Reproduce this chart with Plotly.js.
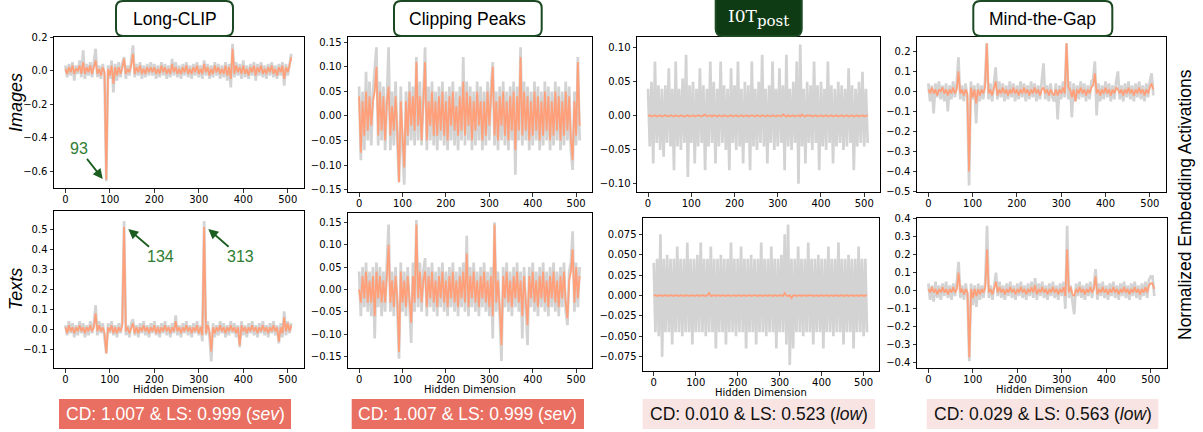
<!DOCTYPE html>
<html><head><meta charset="utf-8">
<script src="https://cdn.plot.ly/plotly-3.0.1.min.js"></script>
<style>html,body{margin:0;padding:0;background:#fff}#chart{width:1203px;height:432px}</style>
</head><body><div id="chart"></div>
<script>
// Hidden-dimension positions (every 4th dimension of 512)
const dims = [];
for (let d = 0; d < 512; d += 4) dims.push(d);

const methods = ["Long-CLIP", "Clipping Peaks", "I0T", "Mind-the-Gap"];
const rowLabels = ["Images", "Texts"];
const xTicks = [0, 100, 200, 300, 400, 500];
const cdText = ["CD: 1.007 & LS: 0.999 (<i>sev</i>)", "CD: 1.007 & LS: 0.999 (<i>sev</i>)", "CD: 0.010 & LS: 0.523 (<i>low</i>)", "CD: 0.029 & LS: 0.563 (<i>low</i>)"];
const annotDims = [93, 134, 313];

// ---- Images row ----
const lcImgGray = [
0.03,-0.04,0.04,-0.03,0.05,-0.06,0.03,-0.02,0.06,-0.04,0.12,-0.05,0.04,-0.03,0.05,-0.04,
0.05,0.13,-0.04,0.03,-0.05,0.04,-0.03,-0.66,0.03,-0.05,0.06,-0.13,0.04,-0.06,0.05,-0.04,
0.04,0.08,-0.05,0.03,-0.03,0.05,0.15,-0.04,0.04,-0.03,0.05,-0.05,0.03,-0.04,0.04,-0.03,
0.05,-0.03,0.04,-0.05,0.03,-0.04,0.05,-0.03,0.04,-0.05,0.03,-0.04,0.07,-0.03,0.05,-0.04,
0.03,-0.05,0.04,-0.03,0.05,-0.04,0.03,-0.05,0.04,-0.03,0.05,-0.04,0.03,-0.05,0.06,-0.03,
0.04,-0.05,0.03,-0.04,0.05,-0.03,0.04,-0.05,0.03,-0.04,0.05,-0.06,0.04,-0.10,0.16,-0.04,
0.05,-0.03,0.04,-0.05,0.06,-0.04,0.03,-0.05,0.04,-0.03,0.05,-0.06,0.04,-0.03,0.05,-0.04,
0.03,-0.05,0.04,-0.03,0.05,-0.04,0.03,-0.05,0.04,-0.03,0.05,-0.09,0.04,-0.03,0.05,0.10];
const lcImgOrange = [
0.01,-0.02,0.02,-0.01,0.03,-0.02,0.01,0.00,0.03,-0.02,0.05,-0.02,0.02,-0.01,0.03,-0.02,
0.02,0.06,-0.02,0.01,-0.03,0.02,-0.01,-0.65,0.01,-0.03,0.03,-0.08,0.02,-0.03,0.02,-0.02,
0.02,0.07,-0.02,0.01,-0.01,0.03,0.10,-0.02,0.02,-0.01,0.03,-0.02,0.01,-0.02,0.02,-0.01,
0.02,-0.01,0.02,-0.02,0.01,-0.02,0.03,-0.01,0.02,-0.02,0.01,-0.02,0.04,-0.01,0.02,-0.02,
0.01,-0.02,0.02,-0.01,0.03,-0.02,0.01,-0.02,0.02,-0.01,0.03,-0.02,0.01,-0.02,0.04,-0.01,
0.02,-0.03,0.01,-0.02,0.03,-0.01,0.02,-0.02,0.01,-0.02,0.03,-0.03,0.02,-0.05,0.13,-0.02,
0.03,-0.01,0.02,-0.02,0.03,-0.02,0.01,-0.03,0.02,-0.01,0.03,-0.03,0.02,-0.01,0.03,-0.02,
0.01,-0.02,0.02,-0.01,0.03,-0.02,0.01,-0.03,0.02,-0.01,0.03,-0.05,0.02,-0.01,0.03,0.08];

const cpImgGray = [
0.06,-0.09,0.05,-0.07,0.09,-0.05,0.07,-0.06,0.05,0.09,0.14,-0.06,0.07,-0.05,0.06,-0.07,
0.06,0.14,-0.07,0.05,-0.06,0.07,-0.05,-0.135,0.06,-0.07,-0.14,0.05,-0.06,0.07,-0.05,0.06,
-0.06,0.12,-0.05,0.07,-0.06,0.05,0.14,-0.07,0.06,-0.05,0.07,-0.06,0.05,-0.07,0.06,-0.05,
0.07,-0.06,0.05,-0.07,0.06,-0.05,0.07,-0.06,0.05,-0.07,0.06,-0.05,0.12,-0.06,0.07,-0.05,
0.06,-0.07,0.05,-0.06,0.07,-0.05,0.06,-0.07,0.05,-0.06,0.07,-0.05,0.06,0.11,-0.06,0.05,
-0.07,0.06,-0.05,0.07,-0.06,0.05,-0.07,0.06,-0.05,0.07,-0.12,0.06,-0.05,0.14,-0.06,0.07,
-0.05,0.06,-0.07,0.05,-0.06,0.07,-0.05,0.06,-0.07,0.05,-0.06,0.07,-0.05,0.06,-0.07,0.05,
-0.06,0.07,-0.05,0.06,-0.07,0.05,-0.06,0.07,-0.05,0.06,-0.07,-0.11,0.05,-0.06,0.12,-0.05];
const cpImgOrange = [
0.04,-0.075,0.03,-0.04,0.05,-0.03,0.04,-0.02,0.03,0.05,0.10,-0.04,0.05,-0.03,0.04,-0.05,
0.03,0.06,-0.04,0.02,-0.03,0.04,-0.03,-0.135,0.03,-0.05,-0.105,0.03,-0.04,0.05,-0.02,0.04,
-0.03,0.11,-0.02,0.04,-0.05,0.03,0.11,-0.05,0.03,-0.02,0.05,-0.04,0.03,-0.04,0.04,-0.03,
0.05,-0.04,0.03,-0.05,0.04,-0.02,0.05,-0.03,0.02,-0.04,0.04,-0.03,0.07,-0.04,0.05,-0.02,
0.04,-0.05,0.03,-0.03,0.05,-0.02,0.03,-0.05,0.03,-0.04,0.05,-0.02,0.04,0.10,-0.04,0.03,
-0.05,0.04,-0.02,0.05,-0.04,0.03,-0.05,0.04,-0.03,0.05,-0.07,0.04,-0.03,0.12,-0.04,0.05,
-0.03,0.04,-0.05,0.03,-0.04,0.05,-0.03,0.04,-0.05,0.03,-0.04,0.05,-0.03,0.04,-0.05,0.03,
-0.04,0.05,-0.03,0.04,-0.05,0.03,-0.04,0.05,-0.03,0.04,-0.05,-0.09,0.03,-0.04,0.11,-0.02];

const iotImgGray = [
0.04,-0.045,0.05,-0.07,0.08,-0.04,0.045,-0.05,0.04,-0.06,0.045,-0.04,0.07,-0.045,0.04,-0.08,
0.08,-0.045,0.04,-0.05,0.055,-0.04,0.09,-0.09,0.045,-0.04,0.05,-0.07,0.04,-0.045,0.07,-0.04,
0.045,-0.08,0.04,-0.045,0.08,-0.04,0.05,-0.07,0.04,-0.045,0.08,-0.04,0.045,-0.05,0.04,-0.08,
0.07,-0.04,0.045,-0.05,0.08,-0.045,0.04,-0.07,0.05,-0.04,0.045,-0.08,0.08,-0.045,0.04,-0.05,
0.05,-0.04,0.09,-0.045,0.04,-0.07,0.045,-0.04,0.08,-0.05,0.04,-0.045,0.07,-0.04,0.045,-0.08,
0.09,-0.045,0.04,-0.05,0.05,-0.04,0.08,-0.10,0.105,-0.045,0.04,-0.07,0.05,-0.04,0.045,-0.05,
0.08,-0.04,0.045,-0.08,0.05,-0.045,0.04,-0.05,0.08,-0.04,0.045,-0.07,0.04,-0.045,0.05,-0.04,
0.045,-0.05,0.04,-0.045,0.07,-0.04,0.045,-0.08,0.04,-0.045,0.05,-0.04,0.065,-0.045,0.04,-0.04];
const iotImgOrange = [
0,0.001,-0.001,0,0.001,-0.001,0,0.001,-0.001,0,0.001,0,-0.001,0.001,0,-0.001,
0.001,0,-0.001,0.001,0,-0.001,0,0.001,-0.001,0,0.001,-0.001,0,0.001,0,-0.001,
0.001,0.002,-0.001,0,0.001,-0.001,0.001,0,-0.001,0.001,0,-0.001,0.001,0,-0.001,0,
0.001,-0.001,0,0.001,-0.001,0,0.001,-0.001,0,0.001,-0.001,0,0.001,0,-0.001,0.001,
0,-0.001,0.001,0,-0.001,0.001,0,-0.001,0.001,0,-0.001,0.001,0,-0.001,0.002,0,
-0.001,0.001,-0.001,0,0.001,-0.001,0,0.001,-0.001,0.002,0,-0.001,0.001,0,0.001,-0.001,
0,0.001,-0.001,0,0.001,-0.001,0,0.001,-0.001,0,0.001,-0.001,0,0.001,-0.001,0,
0.001,-0.001,0,0.001,-0.001,0,0.001,-0.001,0,0.001,-0.001,0,0.001,-0.001,0,0.001];

const mtgImgGray = [
0.04,-0.05,0.03,-0.11,0.04,-0.03,0.05,-0.04,0.03,-0.05,0.04,-0.10,0.03,-0.04,0.05,-0.03,
0.04,0.17,-0.04,0.03,-0.05,0.04,-0.03,-0.47,0.05,-0.04,0.03,-0.16,0.04,-0.05,0.03,-0.04,
0.05,0.24,-0.04,0.04,-0.05,0.03,0.12,-0.04,0.05,-0.03,0.04,-0.05,0.03,-0.04,0.05,-0.03,
0.04,-0.05,0.03,-0.04,0.05,-0.03,0.04,-0.05,0.03,-0.04,0.05,-0.03,0.04,-0.05,0.03,-0.04,
0.05,0.14,-0.04,0.03,-0.05,0.04,-0.03,-0.05,0.04,-0.14,0.03,-0.04,0.05,-0.03,0.24,-0.04,
0.05,-0.13,0.04,-0.05,0.03,-0.04,0.05,-0.03,0.04,-0.05,0.03,-0.04,0.05,0.06,0.15,-0.12,
0.04,-0.05,0.03,-0.04,0.05,-0.03,0.04,-0.05,0.03,-0.04,0.05,0.10,-0.04,0.03,-0.05,0.04,
-0.03,0.05,-0.04,0.03,-0.05,0.04,-0.03,0.05,-0.04,0.03,-0.05,0.04,-0.03,0.05,0.09,-0.02];
const mtgImgOrange = [
0.01,-0.01,0.02,-0.01,0.01,-0.02,0.01,0.00,0.02,-0.01,0.01,-0.02,0.01,-0.01,0.02,-0.01,
0.01,0.10,-0.01,0.01,-0.02,0.01,-0.01,-0.40,0.02,-0.03,0.01,-0.06,0.01,-0.02,0.01,-0.01,
0.02,0.24,-0.01,0.01,-0.02,0.01,0.05,-0.02,0.01,-0.01,0.02,-0.01,0.01,-0.02,0.01,-0.01,
0.02,-0.01,0.01,-0.02,0.01,-0.01,0.02,-0.01,0.01,-0.02,0.01,-0.01,0.02,-0.01,0.01,-0.02,
0.01,0.02,-0.01,0.01,-0.02,0.01,-0.01,-0.02,0.01,-0.02,0.01,-0.01,0.02,-0.01,0.24,0.02,
0.01,-0.03,0.01,-0.05,0.01,-0.01,0.02,-0.01,0.01,-0.02,0.01,-0.01,0.02,0.03,0.09,-0.01,
0.01,-0.02,0.01,-0.01,0.02,-0.01,0.01,-0.02,0.01,-0.01,0.02,0.01,-0.01,0.01,-0.02,0.01,
-0.01,0.02,-0.01,0.01,-0.02,0.01,-0.01,0.02,-0.01,0.01,-0.02,0.01,-0.01,0.02,0.04,0.01];

// ---- Texts row ----
const lcTxtGray = [
0.02,-0.03,0.04,-0.02,0.03,-0.04,0.02,-0.03,0.04,-0.02,0.03,-0.04,0.02,-0.03,0.04,-0.02,
0.03,0.12,-0.03,0.04,-0.02,0.03,-0.04,-0.12,0.03,-0.02,0.04,-0.03,0.02,-0.04,0.03,-0.02,
0.04,0.54,-0.03,0.02,-0.04,0.03,0.05,-0.03,0.02,-0.04,0.03,-0.02,0.04,-0.03,0.02,-0.04,
0.03,-0.02,0.04,-0.03,0.02,-0.04,0.03,-0.02,0.04,-0.03,0.02,-0.04,0.03,-0.02,0.07,-0.03,
0.02,-0.04,0.03,-0.02,0.04,-0.03,0.02,-0.04,0.03,-0.02,0.04,-0.03,0.02,-0.06,0.54,-0.03,
0.04,-0.03,-0.16,0.03,-0.04,0.02,-0.03,0.04,-0.02,0.03,-0.04,0.02,-0.03,0.04,-0.02,0.03,
-0.04,0.02,-0.09,0.04,-0.03,0.02,-0.04,0.03,-0.02,0.04,-0.03,0.02,-0.04,0.03,-0.02,0.04,
-0.03,0.02,-0.04,0.03,-0.02,0.04,-0.03,0.02,-0.07,0.03,-0.04,0.09,-0.03,0.04,-0.02,0.03];
const lcTxtOrange = [
0.01,-0.02,0.02,-0.01,0.01,-0.02,0.01,-0.01,0.02,-0.01,0.01,-0.02,0.01,-0.01,0.02,-0.01,
0.01,0.08,-0.01,0.02,-0.01,0.01,-0.02,-0.12,0.01,-0.01,0.02,-0.02,0.01,-0.02,0.01,-0.01,
0.02,0.51,-0.01,0.01,-0.02,0.01,0.03,-0.02,0.01,-0.02,0.01,-0.01,0.02,-0.01,0.01,-0.02,
0.01,-0.01,0.02,-0.02,0.01,-0.02,0.01,-0.01,0.02,-0.01,0.01,-0.02,0.01,-0.01,0.04,-0.01,
0.01,-0.02,0.01,-0.01,0.02,-0.01,0.01,-0.02,0.01,-0.01,0.02,-0.02,0.01,-0.03,0.51,-0.02,
0.02,-0.01,-0.11,0.01,-0.02,0.01,-0.01,0.02,-0.01,0.01,-0.02,0.01,-0.01,0.02,-0.01,0.01,
-0.02,0.01,-0.08,0.02,-0.01,0.01,-0.02,0.01,-0.01,0.02,-0.01,0.01,-0.02,0.01,-0.01,0.02,
-0.01,0.01,-0.02,0.01,-0.01,0.02,-0.01,0.01,-0.06,0.01,-0.02,0.06,-0.01,0.03,-0.01,0.02];

const cpTxtGray = [
0.04,-0.06,0.05,-0.04,0.06,-0.05,0.04,-0.06,0.05,-0.11,0.06,-0.04,0.05,-0.06,0.04,-0.05,
0.06,0.145,-0.05,0.04,-0.06,0.05,-0.04,-0.155,0.06,-0.05,0.04,-0.06,0.05,-0.04,-0.12,0.06,
-0.05,0.155,-0.04,0.06,-0.05,0.04,0.07,-0.06,0.05,-0.04,0.06,-0.05,0.04,-0.06,0.05,-0.04,
0.06,-0.05,0.04,-0.06,0.05,-0.04,0.06,-0.05,0.04,-0.06,0.05,-0.04,0.06,-0.05,0.12,-0.06,
0.05,-0.04,0.06,-0.05,0.04,-0.06,0.05,-0.04,0.06,-0.05,0.04,-0.06,0.05,-0.11,0.15,-0.05,
0.04,-0.06,-0.16,0.05,-0.04,0.06,-0.05,0.04,-0.06,0.05,-0.04,0.06,-0.05,0.04,-0.11,0.05,
-0.06,-0.125,0.05,-0.04,0.06,-0.05,0.04,-0.06,0.05,-0.04,0.06,-0.05,0.04,-0.06,0.05,-0.04,
0.06,-0.05,0.04,-0.06,0.05,-0.04,0.06,-0.05,-0.08,0.04,0.06,0.13,-0.05,0.06,-0.04,0.05];
const cpTxtOrange = [
0.00,-0.03,0.03,-0.02,0.04,-0.03,0.02,-0.03,0.03,-0.06,0.04,-0.02,0.03,-0.03,0.02,-0.03,
0.03,0.10,-0.03,0.02,-0.04,0.03,-0.02,-0.14,0.04,-0.03,0.02,-0.04,0.03,-0.02,-0.075,0.03,
-0.03,0.145,-0.02,0.04,-0.03,0.02,0.04,-0.04,0.03,-0.02,0.04,-0.03,0.02,-0.04,0.03,-0.02,
0.04,-0.03,0.02,-0.04,0.03,-0.02,0.04,-0.03,0.02,-0.04,0.03,-0.02,0.04,-0.03,0.08,-0.04,
0.03,-0.02,0.04,-0.03,0.02,-0.04,0.03,-0.02,0.04,-0.03,0.02,-0.04,0.03,-0.06,0.145,-0.03,
0.02,-0.04,-0.125,0.03,-0.02,0.04,-0.03,0.02,-0.04,0.03,-0.02,0.04,-0.03,0.02,-0.06,0.03,
-0.04,-0.08,0.03,-0.02,0.04,-0.03,0.02,-0.04,0.03,-0.02,0.04,-0.03,0.02,-0.04,0.03,-0.02,
0.04,-0.03,0.02,-0.04,0.03,-0.02,0.04,-0.03,-0.065,0.02,0.04,0.09,-0.03,0.05,-0.02,0.03];

const iotTxtGray = [
0.04,-0.045,0.045,-0.05,0.075,-0.075,0.045,-0.045,0.05,-0.045,0.045,-0.06,0.045,-0.045,0.06,-0.045,
0.045,-0.05,0.045,-0.045,0.065,-0.045,0.045,-0.06,0.045,-0.045,0.05,-0.045,0.065,-0.045,0.045,-0.05,
0.045,-0.045,0.06,-0.045,0.045,-0.065,0.045,-0.045,0.05,-0.045,0.045,-0.06,0.045,-0.045,0.065,-0.045,
0.045,-0.05,0.045,-0.045,0.06,-0.045,0.045,-0.065,0.045,-0.045,0.05,-0.045,0.045,-0.06,0.045,-0.045,
0.065,-0.045,0.045,-0.05,0.045,-0.045,0.06,-0.045,0.045,-0.065,0.045,-0.045,0.05,-0.045,0.075,-0.06,
0.087,-0.085,0.045,-0.065,0.045,-0.045,0.06,-0.045,0.045,-0.05,0.045,-0.045,0.065,-0.045,0.045,-0.06,
0.045,-0.045,0.05,-0.045,0.045,-0.065,0.045,-0.045,0.06,-0.045,0.045,-0.05,0.045,-0.045,0.065,-0.045,
0.045,-0.06,0.045,-0.045,0.05,-0.045,0.045,-0.065,0.045,-0.045,0.06,-0.045,0.045,-0.05,0.045,-0.045];
const iotTxtOrange = [
0,0.0005,-0.0005,0,0.0005,-0.0005,0,0.0005,-0.0005,0,0.0005,0,-0.0005,0.0005,0,-0.0005,
0.0005,0,-0.0005,0.0005,0,-0.0005,0,0.0005,-0.0005,0,0.0005,-0.0005,0,0.0005,0,-0.0005,
0.0005,0.003,-0.0005,0,0.0005,-0.0005,0.0005,0,-0.0005,0.0005,0,-0.0005,0.0005,0,-0.0005,0,
0.0005,-0.0005,0,0.0005,-0.0005,0,0.0005,-0.0005,0,0.0005,-0.0005,0,0.0005,0,-0.0005,0.0005,
0,-0.0005,0.0005,0,-0.0005,0.0005,0,-0.0005,0.0005,0,-0.0005,0.0005,0,-0.0005,0.003,0,
-0.0005,0.0005,-0.003,0,0.0005,-0.0005,0,0.0005,-0.0005,0.0005,0,-0.0005,0.0005,0,0.0005,-0.0005,
0,0.0005,-0.0005,0,0.0005,-0.0005,0,0.0005,-0.0005,0,0.0005,-0.0005,0,0.0005,-0.0005,0,
0.0005,-0.0005,0,0.0005,-0.0005,0,0.0005,-0.0005,0,0.0005,-0.0005,0,0.0005,-0.0005,0,0.0005];

const mtgTxtGray = [
0.04,-0.05,0.03,-0.06,0.05,-0.04,0.03,-0.05,0.04,-0.03,0.05,-0.04,0.03,-0.05,0.04,-0.03,
0.05,0.16,-0.04,0.03,-0.05,0.04,-0.03,-0.39,0.04,-0.08,0.03,-0.09,0.04,-0.05,0.03,-0.04,
0.05,0.36,-0.04,0.03,-0.05,0.04,0.10,-0.03,0.05,-0.04,0.03,-0.05,0.04,-0.03,0.05,-0.04,
0.03,-0.05,0.04,-0.03,0.05,-0.04,0.03,-0.05,0.04,-0.03,0.05,-0.04,0.07,-0.05,0.04,-0.03,
0.05,-0.04,0.03,-0.05,0.04,-0.03,0.05,-0.04,0.03,-0.05,0.04,-0.03,0.05,-0.10,0.36,-0.04,
0.03,-0.06,-0.13,0.04,-0.03,0.05,-0.04,0.03,-0.05,0.04,-0.03,0.05,-0.04,0.03,0.12,-0.05,
0.04,-0.03,0.05,-0.04,0.03,-0.05,0.04,-0.03,0.05,-0.04,0.03,-0.05,0.04,-0.03,0.05,-0.04,
0.03,-0.05,0.04,-0.03,0.05,-0.04,0.03,-0.05,0.04,-0.03,0.05,-0.04,0.06,0.08,0.08,-0.03];
const mtgTxtOrange = [
0.01,-0.01,0.02,-0.01,0.01,-0.02,0.01,-0.01,0.02,-0.01,0.01,-0.02,0.01,-0.01,0.02,-0.01,
0.01,0.10,-0.01,0.01,-0.02,0.01,-0.01,-0.37,0.01,-0.04,0.01,-0.03,0.01,-0.02,0.01,-0.01,
0.02,0.23,-0.01,0.01,-0.02,0.01,0.05,-0.01,0.02,-0.01,0.01,-0.02,0.01,-0.01,0.02,-0.01,
0.01,-0.02,0.01,-0.01,0.02,-0.01,0.01,-0.02,0.01,-0.01,0.02,-0.01,0.03,-0.02,0.01,-0.01,
0.02,-0.01,0.01,-0.02,0.01,-0.01,0.02,-0.01,0.01,-0.02,0.01,-0.01,0.02,-0.03,0.23,-0.01,
0.02,-0.02,-0.03,0.01,-0.01,0.02,-0.01,0.01,-0.02,0.01,-0.01,0.02,-0.01,0.01,0.08,-0.02,
0.01,-0.01,0.02,-0.01,0.01,-0.02,0.01,-0.01,0.02,-0.01,0.01,-0.02,0.01,-0.01,0.02,-0.01,
0.01,-0.02,0.01,-0.01,0.02,-0.01,0.01,-0.02,0.01,-0.01,0.02,-0.01,0.03,0.04,0.04,0.01];

// ---------- layout geometry (pixels) ----------
const W = 1203, H = 432;
const X = v => v / W, Y = v => 1 - v / H;
const panels = [
  {gray: lcImgGray,  orange: lcImgOrange,  px: [54, 304],  py: [37, 188], yr: [-0.70, 0.20], dt: 0.2, f: '.1f'},
  {gray: cpImgGray,  orange: cpImgOrange,  px: [348, 592], py: [37, 192], yr: [-0.155, 0.161], dt: 0.05, f: '.2f'},
  {gray: iotImgGray, orange: iotImgOrange, px: [637, 880], py: [37, 192], yr: [-0.112, 0.116], dt: 0.05, f: '.2f'},
  {gray: mtgImgGray, orange: mtgImgOrange, px: [917, 1166], py: [37, 192], yr: [-0.503, 0.272], dt: 0.1, f: '.1f'},
  {gray: lcTxtGray,  orange: lcTxtOrange,  px: [54, 304],  py: [211, 368], yr: [-0.193, 0.59], dt: 0.1, f: '.1f'},
  {gray: cpTxtGray,  orange: cpTxtOrange,  px: [348, 592], py: [213, 368], yr: [-0.176, 0.171], dt: 0.05, f: '.2f'},
  {gray: iotTxtGray, orange: iotTxtOrange, px: [643, 879], py: [218, 371], yr: [-0.0925, 0.095], dt: 0.025, f: '.3f'},
  {gray: mtgTxtGray, orange: mtgTxtOrange, px: [917, 1167], py: [218, 368], yr: [-0.428, 0.403], dt: 0.1, f: '.1f'}
];

const traces = [];
const layout = {
  width: W, height: H, margin: {l: 0, r: 0, t: 0, b: 0},
  paper_bgcolor: '#fff', plot_bgcolor: '#fff', showlegend: false,
  font: {family: 'DejaVu Sans', color: '#000'},
  shapes: [], annotations: []
};
const tickFont = {family: 'DejaVu Sans', size: 10, color: '#000'};
panels.forEach((p, i) => {
  const n = i === 0 ? '' : String(i + 1);
  traces.push({x: dims, y: p.gray, xaxis: 'x' + n, yaxis: 'y' + n, type: 'scatter', mode: 'lines',
    line: {color: '#d3d3d3', width: 2.7}, hoverinfo: 'skip'});
  traces.push({x: dims, y: p.orange, xaxis: 'x' + n, yaxis: 'y' + n, type: 'scatter', mode: 'lines',
    line: {color: '#ffa07a', width: 1.8}, hoverinfo: 'skip'});
  const common = {showline: true, mirror: true, linecolor: '#000', linewidth: 1, ticks: 'outside',
    ticklen: 3.5, tickwidth: 0.8, tickcolor: '#000', showgrid: false, zeroline: false,
    tickfont: tickFont, fixedrange: true};
  layout['xaxis' + n] = Object.assign({}, common, {domain: [X(p.px[0]), X(p.px[1])], range: [-25.55, 536.55],
    anchor: 'y' + n, tickmode: 'array', tickvals: xTicks, ticktext: xTicks.map(String), ticklabelstandoff: -2});
  layout['yaxis' + n] = Object.assign({}, common, {domain: [Y(p.py[1]), Y(p.py[0])], range: p.yr,
    anchor: 'x' + n, tickmode: 'linear', tick0: 0, dtick: p.dt, tickformat: p.f});
  if (i >= 4) {
    layout.annotations.push({xref: 'paper', yref: 'paper', x: X((p.px[0] + p.px[1]) / 2), y: Y(i === 6 ? 392 : 389.5),
      text: 'Hidden Dimension', showarrow: false, xanchor: 'center', yanchor: 'middle',
      font: {family: 'DejaVu Sans', size: 10, color: '#000'}});
  }
});

// rounded rectangle path in paper coords
function rr(x0, y0, x1, y1, r) {
  const a = v => X(v).toFixed(5), b = v => Y(v).toFixed(5);
  return `M${a(x0 + r)},${b(y0)} L${a(x1 - r)},${b(y0)} Q${a(x1)},${b(y0)} ${a(x1)},${b(y0 + r)} ` +
    `L${a(x1)},${b(y1 - r)} Q${a(x1)},${b(y1)} ${a(x1 - r)},${b(y1)} L${a(x0 + r)},${b(y1)} ` +
    `Q${a(x0)},${b(y1)} ${a(x0)},${b(y1 - r)} L${a(x0)},${b(y0 + r)} Q${a(x0)},${b(y0)} ${a(x0 + r)},${b(y0)} Z`;
}
const titleBoxes = [[116, 1, 233, 36], [394, 1, 541.7, 36], [715.7, -6, 801.7, 36], [973.3, 1, 1112.3, 36]];
titleBoxes.forEach((bx, i) => {
  const dark = i === 2;
  layout.shapes.push({type: 'path', xref: 'paper', yref: 'paper', path: rr(bx[0], bx[1], bx[2], bx[3], 7),
    fillcolor: dark ? '#0f3b14' : '#ffffff', line: {color: '#1b4a22', width: 2}});
  layout.annotations.push({xref: 'paper', yref: 'paper', x: X((bx[0] + bx[2]) / 2), y: Y(dark ? 18 : 19),
    text: dark ? methods[i] + '<sub><span style="font-size:15px">post</span></sub>' : methods[i], showarrow: false, xanchor: 'center', yanchor: 'middle',
    font: dark ? {family: 'DejaVu Serif', size: 17, color: '#ffffff'} : {family: 'Liberation Sans, Arial', size: 17.5, color: '#000'}});
});

// CD / LS boxes
const cdBoxes = [[59, 291], [351.7, 584], [642.7, 875], [926.7, 1158.3]];
cdBoxes.forEach((bx, i) => {
  const sev = i < 2;
  layout.shapes.push({type: 'rect', xref: 'paper', yref: 'paper', x0: X(bx[0]), x1: X(bx[1]), y0: Y(429), y1: Y(399),
    fillcolor: sev ? '#e86f61' : '#f8e4e2', line: {width: 0}});
  layout.annotations.push({xref: 'paper', yref: 'paper', x: X((bx[0] + bx[1]) / 2), y: Y(414), text: cdText[i],
    showarrow: false, xanchor: 'center', yanchor: 'middle',
    font: {family: 'Liberation Sans, Arial', size: 17.5, color: sev ? '#ffffff' : '#111111'}});
});

// Row labels and right label
layout.annotations.push({xref: 'paper', yref: 'paper', x: X(16), y: Y(103), text: '<i>' + rowLabels[0] + '</i>', textangle: -90,
  showarrow: false, xanchor: 'center', yanchor: 'middle', font: {family: 'Liberation Sans, Arial', size: 18, color: '#000'}});
layout.annotations.push({xref: 'paper', yref: 'paper', x: X(16), y: Y(289), text: '<i>' + rowLabels[1] + '</i>', textangle: -90,
  showarrow: false, xanchor: 'center', yanchor: 'middle', font: {family: 'Liberation Sans, Arial', size: 18, color: '#000'}});
layout.annotations.push({xref: 'paper', yref: 'paper', x: X(1185), y: Y(205), text: 'Normalized Embedding Activations', textangle: -90,
  showarrow: false, xanchor: 'center', yanchor: 'middle', font: {family: 'Liberation Sans, Arial', size: 17.5, color: '#000'}});

// Arrow annotations on Long-CLIP
const arrowFont = {family: 'Liberation Sans, Arial', size: 16, color: '#2e7d32'};
layout.annotations.push({xref: 'x', yref: 'y', x: 84, y: -0.646, axref: 'x', ayref: 'y', ax: 31, ay: -0.467,
  text: String(annotDims[0]), showarrow: true, arrowhead: 2, arrowsize: 1.1, arrowwidth: 1.8, arrowcolor: '#1b5e20', font: arrowFont});
layout.annotations.push({xref: 'x5', yref: 'y5', x: 141.6, y: 0.50, axref: 'x5', ayref: 'y5', ax: 214.5, ay: 0.362,
  text: String(annotDims[1]), showarrow: true, arrowhead: 2, arrowsize: 1.1, arrowwidth: 1.8, arrowcolor: '#1b5e20', font: arrowFont});
layout.annotations.push({xref: 'x5', yref: 'y5', x: 321.5, y: 0.50, axref: 'x5', ayref: 'y5', ax: 392.8, ay: 0.362,
  text: String(annotDims[2]), showarrow: true, arrowhead: 2, arrowsize: 1.1, arrowwidth: 1.8, arrowcolor: '#1b5e20', font: arrowFont});

Plotly.newPlot('chart', traces, layout, {staticPlot: true, displayModeBar: false});
</script></body></html>
